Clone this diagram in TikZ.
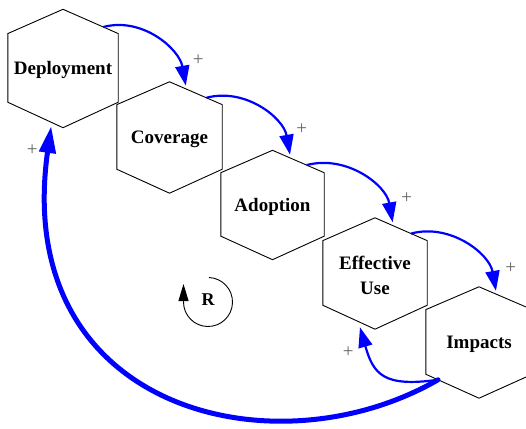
\documentclass[tikz,border=0pt]{standalone}
\usepackage{fontspec}
\setmainfont{Liberation Serif}
\usetikzlibrary{arrows.meta,calc}
\begin{document}
\begin{tikzpicture}[x=1pt,y=1pt,
  hexcell/.style={rectangle, inner sep=0pt, minimum width=105pt, minimum height=111pt,
    font=\fontsize{19}{25}\selectfont\bfseries, align=center},
  capbox/.style={text height=12.9pt, text depth=0pt},
  hexline/.style={draw=black, line width=0.9pt, line join=miter},
  link/.style={draw=blue, line width=2.2pt, -{Triangle[length=20pt,width=14pt]}, shorten >=3.5pt},
  mainlink/.style={draw=blue, line width=5pt, line cap=round, -{Triangle[length=27pt,width=16pt]}, shorten >=3.5pt},
  sign/.style={font=\fontsize{19}{19}\selectfont, text=black!62, inner sep=0pt},
  looplabel/.style={font=\fontsize{18}{18}\selectfont\bfseries, inner sep=0pt},
  loopline/.style={draw=black, line width=0.9pt, -{Triangle[length=17pt,width=10pt]}}
]
\useasboundingbox (0,0) rectangle (526,428);
\clip (0,0) rectangle (526,428);

% stages of the chain
\node[hexcell, capbox, minimum width=110pt, minimum height=118pt] (dep) at (63,359.5) {Deployment};
\node[hexcell, capbox] (cov) at (169.5,290.5) {Coverage};
\node[hexcell, capbox, minimum width=103pt, minimum height=109pt] (ado) at (272.5,223) {Adoption};
\node[hexcell, minimum width=104pt] (eff) at (375,154.5) {\rule{0pt}{18pt}Effective\\Use};
\node[hexcell, capbox, minimum width=106pt] (imp) at (479,85.5) {Impacts};

% hexagon outlines around each stage
\foreach \n in {dep,cov,ado,eff,imp}{
  \coordinate (\n-ur) at ($(\n.north east)!0.205!(\n.south east)$);
  \coordinate (\n-lr) at ($(\n.north east)!0.785!(\n.south east)$);
  \coordinate (\n-ul) at ($(\n.north west)!0.205!(\n.south west)$);
  \coordinate (\n-ll) at ($(\n.north west)!0.785!(\n.south west)$);
  \draw[hexline] (\n.north) -- (\n-ur) -- (\n-lr) -- (\n.south) -- (\n-ll) -- (\n-ul) -- cycle;
}

% forward links
\draw[link] ($(dep.north)!0.73!(dep-ur)$) to[out=15,in=100] ($(cov.north)!0.32!(cov-ur)$);
\draw[link] ($(cov.north)!0.70!(cov-ur)$) to[out=15,in=100] ($(ado.north)!0.35!(ado-ur)$);
\draw[link] ($(ado.north)!0.66!(ado-ur)$) to[out=15,in=100] ($(eff.north)!0.35!(eff-ur)$);
\draw[link] ($(eff.north)!0.69!(eff-ur)$) to[out=15,in=100] ($(imp.north)!0.33!(imp-ur)$);

% feedback links
\coordinate (imp-out) at ($(imp.south)!0.77!(imp-ll)$);
\draw[link, shorten >=6pt] (imp-out) to[out=188,in=-74,out distance=55pt,in distance=55pt] ($(eff.south)!0.32!(eff-ll)$);
\draw[mainlink] (imp-out) to[out=210,in=262,out distance=190pt,in distance=290pt] ($(dep.south)!0.205!(dep-ll)$);

% polarity signs
\node[sign] (s1) at (198.3,368) {+};
\node[sign] (s2) at (301.7,298.7) {+};
\node[sign] (s3) at (406.7,229.7) {+};
\node[sign] (s4) at (510.7,159.7) {+};
\node[sign] (s5) at (348.3,76.3) {+};
\node[sign] (s6) at (32.3,278) {+};

% reinforcing loop marker
\node[looplabel] (R) at (208,128) {R};
\draw[loopline] ([shift={(88:24.5)}]$(R.center)+(0,-2)$) arc[start angle=88,end angle=-180,radius=24.5] -- ++(0,18);
\end{tikzpicture}
\end{document}
